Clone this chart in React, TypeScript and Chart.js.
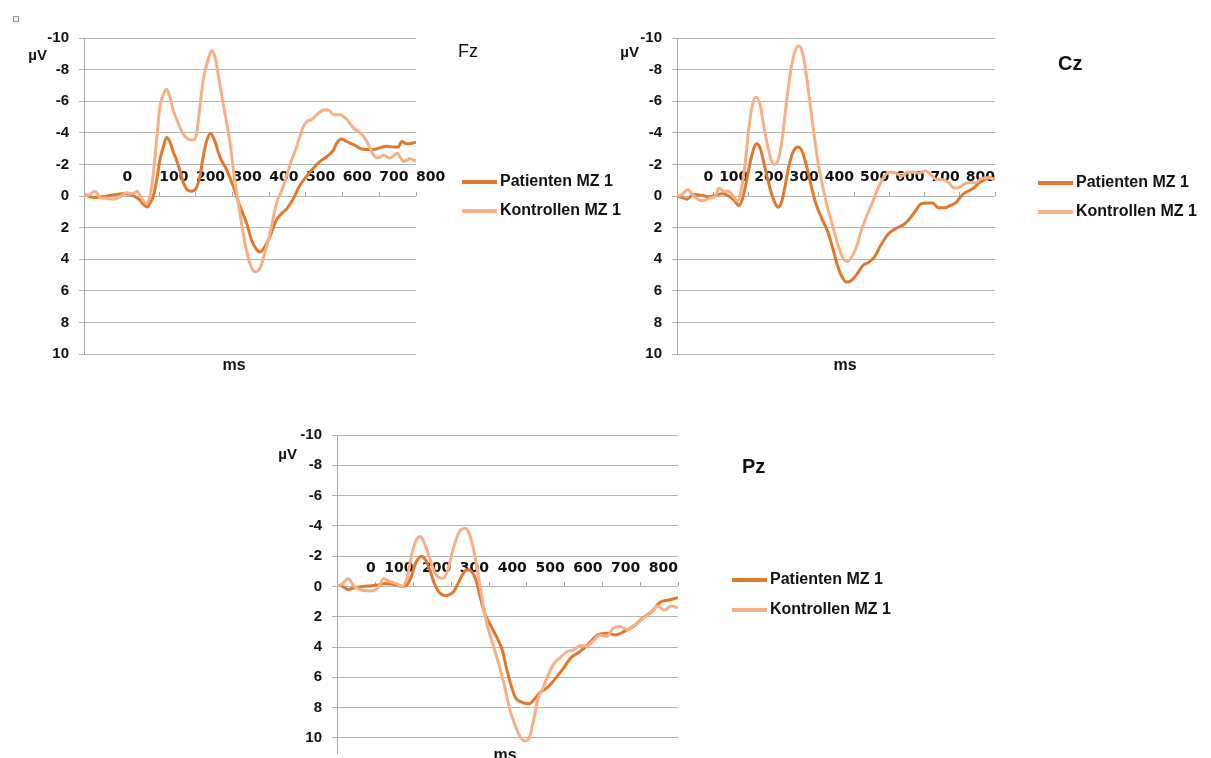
import React, { useEffect, useRef } from 'react';
import { Chart, registerables } from 'chart.js';

Chart.register(...registerables);

// ---------- labels & ticks ----------
const SERIES_LABELS = ['Patienten MZ 1', 'Kontrollen MZ 1'];
const X_UNIT = 'ms';
const Y_UNIT = 'µV';
const xTickValues = [0, 100, 200, 300, 400, 500, 600, 700, 800];
const yTickValues = [-10, -8, -6, -4, -2, 0, 2, 4, 6, 8, 10];

// ---------- Fz ----------
const fzPatientenMs = [-105, -80, -55, -30, 0, 20, 35, 47, 58, 68, 76, 84, 93, 102, 111, 120, 129, 138, 147, 156, 165, 175, 188, 202, 211, 220, 229, 240, 252, 265, 284, 302, 320, 338, 352, 366, 375, 388, 402, 420, 434, 448, 466, 484, 502, 520, 539, 557, 575, 584, 598, 611, 630, 648, 666, 684, 702, 720, 739, 752, 761, 775, 800];
const fzPatientenUv = [-0.1, 0.1, 0.05, -0.05, -0.15, -0.1, 0.05, 0.25, 0.55, 0.7, 0.4, 0, -1.0, -2.3, -3.1, -3.7, -3.45, -2.8, -2.3, -1.65, -0.9, -0.43, -0.3, -0.55, -1.25, -2.5, -3.45, -3.95, -3.45, -2.5, -1.65, -0.6, 0.65, 1.7, 2.8, 3.4, 3.55, 3.2, 2.55, 1.5, 1.1, 0.8, 0.15, -0.7, -1.25, -1.75, -2.2, -2.5, -2.9, -3.35, -3.6, -3.45, -3.25, -3.0, -2.95, -2.95, -3.05, -3.15, -3.1, -3.1, -3.45, -3.3, -3.4];
const fzKontrollenMs = [-105, -89, -75, -61, -43, -25, -7, 11, 29, 40, 52, 65, 75, 84, 93, 102, 111, 120, 129, 138, 152, 165, 179, 193, 202, 211, 220, 234, 243, 252, 265, 279, 293, 306, 320, 334, 347, 361, 375, 388, 402, 420, 438, 457, 475, 493, 502, 516, 530, 548, 561, 575, 593, 611, 630, 648, 666, 684, 698, 711, 729, 748, 766, 784, 800];
const fzKontrollenUv = [0, -0.1, -0.3, 0.1, 0.15, 0.2, 0.05, -0.2, -0.15, -0.3, 0.15, 0.45, 0, -1.45, -3.55, -5.65, -6.4, -6.75, -6.3, -5.45, -4.6, -3.95, -3.6, -3.55, -3.95, -5.65, -7.35, -8.7, -9.2, -8.8, -7.1, -5.25, -3.35, -1.0, 1.1, 3.0, 4.25, 4.8, 4.55, 3.6, 2.35, 0.45, -0.6, -2.0, -3.15, -4.4, -4.7, -4.85, -5.15, -5.45, -5.45, -5.15, -5.15, -4.85, -4.3, -4.0, -3.45, -2.6, -2.4, -2.6, -2.4, -2.7, -2.2, -2.35, -2.2];

// ---------- Cz ----------
const czPatientenMs = [-102, -88, -75, -55, -33, -11, 11, 28, 44, 61, 72, 83, 94, 105, 116, 124, 133, 144, 155, 168, 177, 185, 194, 204, 215, 226, 241, 252, 265, 281, 292, 309, 326, 340, 353, 364, 379, 392, 408, 425, 441, 458, 475, 497, 519, 541, 557, 574, 590, 607, 623, 640, 657, 673, 690, 706, 723, 739, 756, 772, 783, 800];
const czPatientenUv = [0, 0.1, 0.2, -0.1, -0.05, 0.05, -0.1, -0.15, 0, 0.3, 0.6, 0.2, -0.85, -2.1, -3.05, -3.3, -3.05, -2.1, -1.05, 0, 0.5, 0.7, 0.4, -0.6, -1.9, -2.75, -3.1, -2.85, -1.9, -0.4, 0.5, 1.45, 2.3, 3.35, 4.4, 5.05, 5.45, 5.35, 4.95, 4.4, 4.2, 3.85, 3.15, 2.4, 2.05, 1.8, 1.45, 0.95, 0.5, 0.45, 0.45, 0.75, 0.75, 0.6, 0.4, -0.05, -0.3, -0.5, -0.85, -1.05, -1.15, -1.1];
const czKontrollenMs = [-102, -88, -72, -55, -33, -11, 6, 17, 31, 44, 57, 68, 80, 91, 102, 113, 122, 133, 144, 155, 166, 174, 185, 196, 207, 218, 232, 243, 254, 265, 276, 287, 298, 309, 320, 331, 342, 355, 370, 381, 395, 408, 419, 436, 452, 469, 486, 502, 519, 535, 552, 568, 585, 602, 618, 635, 651, 668, 684, 695, 712, 728, 745, 761, 778, 800];
const czKontrollenUv = [0, -0.1, -0.4, 0, 0.3, 0.15, 0, -0.5, -0.3, -0.3, 0, 0.3, -0.4, -2.1, -4.4, -5.9, -6.25, -5.8, -4.4, -3.15, -2.2, -2.0, -2.3, -3.6, -5.7, -7.6, -9.15, -9.5, -9.05, -7.6, -5.7, -3.8, -2.1, -0.85, 0.3, 1.25, 2.1, 3.15, 4.0, 4.15, 3.8, 3.15, 2.3, 1.25, 0.4, -0.55, -1.25, -1.5, -1.45, -1.25, -1.5, -1.5, -1.45, -1.6, -1.35, -1.05, -1.05, -0.85, -0.5, -0.5, -0.75, -0.85, -0.85, -1.1, -1.15, -1.05];

// ---------- Pz ----------
const pzPatientenMs = [-102, -88, -73, -59, -35, -12, 6, 23, 47, 70, 82, 94, 106, 120, 132, 143, 155, 167, 182, 194, 206, 218, 229, 241, 253, 265, 276, 288, 306, 323, 335, 347, 359, 370, 388, 406, 423, 435, 453, 470, 494, 517, 541, 565, 588, 612, 635, 659, 682, 706, 729, 753, 776, 800];
const pzPatientenUv = [-0.1, 0, 0.2, 0.1, 0, -0.05, -0.1, -0.2, -0.15, 0, -0.1, -0.65, -1.55, -2.0, -1.75, -1.1, -0.2, 0.35, 0.6, 0.55, 0.35, -0.2, -0.75, -1.1, -1.0, -0.45, 0.65, 1.75, 2.65, 3.5, 4.2, 5.5, 6.6, 7.35, 7.65, 7.75, 7.35, 7.0, 6.7, 6.25, 5.5, 4.7, 4.3, 3.75, 3.2, 3.1, 3.2, 2.95, 2.65, 2.1, 1.7, 1.05, 0.9, 0.75];
const pzKontrollenMs = [-102, -88, -73, -57, -35, -12, 6, 21, 35, 53, 70, 84, 96, 108, 118, 129, 141, 155, 167, 179, 190, 202, 214, 226, 238, 249, 261, 273, 285, 296, 312, 327, 341, 355, 370, 382, 394, 406, 418, 429, 441, 453, 470, 488, 506, 523, 541, 559, 576, 594, 612, 629, 647, 665, 682, 706, 729, 747, 764, 782, 800];
const pzKontrollenUv = [0, -0.2, -0.5, 0, 0.25, 0.3, 0.1, -0.5, -0.35, -0.2, 0, -0.65, -2.2, -3.1, -3.3, -2.85, -2.0, -1.0, -0.6, -0.55, -1.0, -2.2, -3.2, -3.75, -3.85, -3.4, -2.2, -0.45, 1.3, 2.65, 3.95, 5.25, 6.6, 8.15, 9.25, 9.9, 10.2, 10.0, 8.8, 7.45, 6.8, 6.05, 5.15, 4.7, 4.3, 4.2, 3.9, 3.95, 3.6, 3.2, 3.3, 2.75, 2.65, 2.85, 2.6, 2.15, 1.65, 1.3, 1.55, 1.3, 1.4];

// ---------- styles ----------
const PAT_COLOR = '#E0782E';
const KON_COLOR = '#F6B088';
const TEXT_COLOR = '#111111';
const GRID_COLOR = '#B3B3B3';
const AXIS_COLOR = '#A6A6A6';
const SANS = '"Liberation Sans", Arial, sans-serif';

type PanelCfg = {
  id: string;
  title: string;
  titleFont: string;
  box: { left: number; top: number; width: number; height: number };
  padding: { left: number; top: number; right: number; bottom: number };
  xMin: number;
  xMax: number;
  yMax: number;
  tickAlign: 'start' | 'end';
  titleAt: number[];
  unitAt: number[];
  msAt: number[];
  legendAt: number[];
  pat: [number[], number[]];
  kon: [number[], number[]];
};

const PANELS: PanelCfg[] = [
  {
    id: 'fz', title: 'Fz', titleFont: `18px ${SANS}`,
    box: { left: 0, top: 0, width: 640, height: 392 },
    padding: { left: 34, top: 38, right: 224, bottom: 38 },
    xMin: -105, xMax: 800, yMax: 10, tickAlign: 'start',
    titleAt: [458, 52.5], unitAt: [47, 56], msAt: [234, 366], legendAt: [462, 182, 211],
    pat: [fzPatientenMs, fzPatientenUv], kon: [fzKontrollenMs, fzKontrollenUv],
  },
  {
    id: 'cz', title: 'Cz', titleFont: `bold 20px ${SANS}`,
    box: { left: 600, top: 0, width: 611, height: 392 },
    padding: { left: 27, top: 38, right: 216, bottom: 38 },
    xMin: -102.5, xMax: 800, yMax: 10, tickAlign: 'end',
    titleAt: [458, 64.5], unitAt: [39, 53], msAt: [245, 366], legendAt: [438, 183, 212],
    pat: [czPatientenMs, czPatientenUv], kon: [czKontrollenMs, czKontrollenUv],
  },
  {
    id: 'pz', title: 'Pz', titleFont: `bold 20px ${SANS}`,
    box: { left: 250, top: 400, width: 700, height: 372 },
    padding: { left: 37, top: 35, right: 272, bottom: 19 },
    xMin: -102.5, xMax: 800, yMax: 11, tickAlign: 'end',
    titleAt: [492, 67], unitAt: [47, 55], msAt: [255, 356], legendAt: [482, 180, 210],
    pat: [pzPatientenMs, pzPatientenUv], kon: [pzKontrollenMs, pzKontrollenUv],
  },
];

const toPoints = (ms: number[], uv: number[]) => ms.map((t, i) => ({ x: t, y: uv[i] }));

const decorPlugin = {
  id: 'decor',
  afterDraw(chart: any, _args: any, opts: any) {
    const ctx = chart.ctx;
    ctx.save();
    ctx.fillStyle = TEXT_COLOR;
    ctx.textBaseline = 'middle';
    ctx.font = opts.titleFont;
    ctx.textAlign = 'left';
    ctx.fillText(opts.title, opts.titleAt[0], opts.titleAt[1]);
    ctx.font = `bold 15px ${SANS}`;
    ctx.textAlign = 'right';
    ctx.fillText(Y_UNIT, opts.unitAt[0], opts.unitAt[1]);
    ctx.font = `bold 16px ${SANS}`;
    ctx.textAlign = 'center';
    ctx.fillText(X_UNIT, opts.msAt[0], opts.msAt[1]);
    const lx = opts.legendAt[0];
    chart.data.datasets.forEach((ds: any, i: number) => {
      const y = opts.legendAt[1 + i];
      ctx.strokeStyle = ds.borderColor;
      ctx.lineWidth = 4;
      ctx.lineCap = 'butt';
      ctx.beginPath();
      ctx.moveTo(lx, y);
      ctx.lineTo(lx + 35, y);
      ctx.stroke();
      ctx.fillStyle = TEXT_COLOR;
      ctx.font = `bold 16px ${SANS}`;
      ctx.textAlign = 'left';
      ctx.fillText(ds.label, lx + 38, y);
    });
    ctx.restore();
  },
};

function ErpPanel({ cfg }: { cfg: PanelCfg }) {
  const ref = useRef<HTMLCanvasElement | null>(null);
  useEffect(() => {
    if (!ref.current) return;
    const chart = new Chart(ref.current, {
      type: 'line',
      data: {
        datasets: [
          {
            label: SERIES_LABELS[0],
            data: toPoints(cfg.pat[0], cfg.pat[1]),
            borderColor: PAT_COLOR,
            backgroundColor: PAT_COLOR,
            borderWidth: 3,
            pointRadius: 0,
            cubicInterpolationMode: 'monotone',
            order: 1,
          },
          {
            label: SERIES_LABELS[1],
            data: toPoints(cfg.kon[0], cfg.kon[1]),
            borderColor: KON_COLOR,
            backgroundColor: KON_COLOR,
            borderWidth: 3,
            pointRadius: 0,
            cubicInterpolationMode: 'monotone',
            order: 0,
          },
        ],
      },
      options: {
        animation: false,
        responsive: false,
        devicePixelRatio: 1,
        layout: { padding: cfg.padding },
        events: [],
        plugins: {
          legend: { display: false },
          tooltip: { enabled: false },
          decor: {
            title: cfg.title,
            titleFont: cfg.titleFont,
            titleAt: cfg.titleAt,
            unitAt: cfg.unitAt,
            msAt: cfg.msAt,
            legendAt: cfg.legendAt,
          },
        } as any,
        scales: {
          x: {
            type: 'linear',
            min: cfg.xMin,
            max: cfg.xMax,
            position: { y: 0 } as any,
            afterBuildTicks: (s: any) => {
              s.ticks = xTickValues.map((v) => ({ value: v }));
            },
            afterFit: (s: any) => {
              s.height = 0;
            },
            grid: {
              display: true,
              drawOnChartArea: false,
              drawTicks: true,
              tickLength: -4,
              color: AXIS_COLOR,
            },
            border: { display: false },
            ticks: {
              align: cfg.tickAlign,
              padding: -22.9,
              color: TEXT_COLOR,
              autoSkip: false,
              maxRotation: 0,
              minRotation: 0,
              font: { family: '"DejaVu Sans", sans-serif', size: 14, weight: 'bold', lineHeight: 1.2 },
            },
          },
          y: {
            type: 'linear',
            reverse: true,
            min: -10,
            max: cfg.yMax,
            afterBuildTicks: (s: any) => {
              s.ticks = yTickValues.map((v) => ({ value: v }));
            },
            afterFit: (s: any) => {
              s.width = 50;
            },
            grid: { color: GRID_COLOR, tickLength: 5, drawTicks: true },
            border: { display: true, color: AXIS_COLOR, width: 1 },
            ticks: {
              padding: 10,
              color: TEXT_COLOR,
              font: { family: SANS, size: 15, weight: 'bold', lineHeight: 1.2 },
            },
          },
        },
      },
      plugins: [decorPlugin as any],
    } as any);
    return () => chart.destroy();
  }, [cfg]);
  return (
    <canvas
      ref={ref}
      width={cfg.box.width}
      height={cfg.box.height}
      style={{
        position: 'absolute',
        left: cfg.box.left,
        top: cfg.box.top,
        width: cfg.box.width,
        height: cfg.box.height,
      }}
    />
  );
}

export default function App() {
  return (
    <div
      style={{
        position: 'absolute',
        left: 0,
        top: 0,
        width: 1211,
        height: 758,
        background: '#ffffff',
        overflow: 'hidden',
      }}
    >
      <div
        style={{
          position: 'absolute',
          left: 13,
          top: 16,
          width: 4,
          height: 4,
          border: '1px solid #9a9a9a',
          background: '#f4f4f4',
        }}
      />
      {PANELS.map((p) => (
        <ErpPanel key={p.id} cfg={p} />
      ))}
    </div>
  );
}
